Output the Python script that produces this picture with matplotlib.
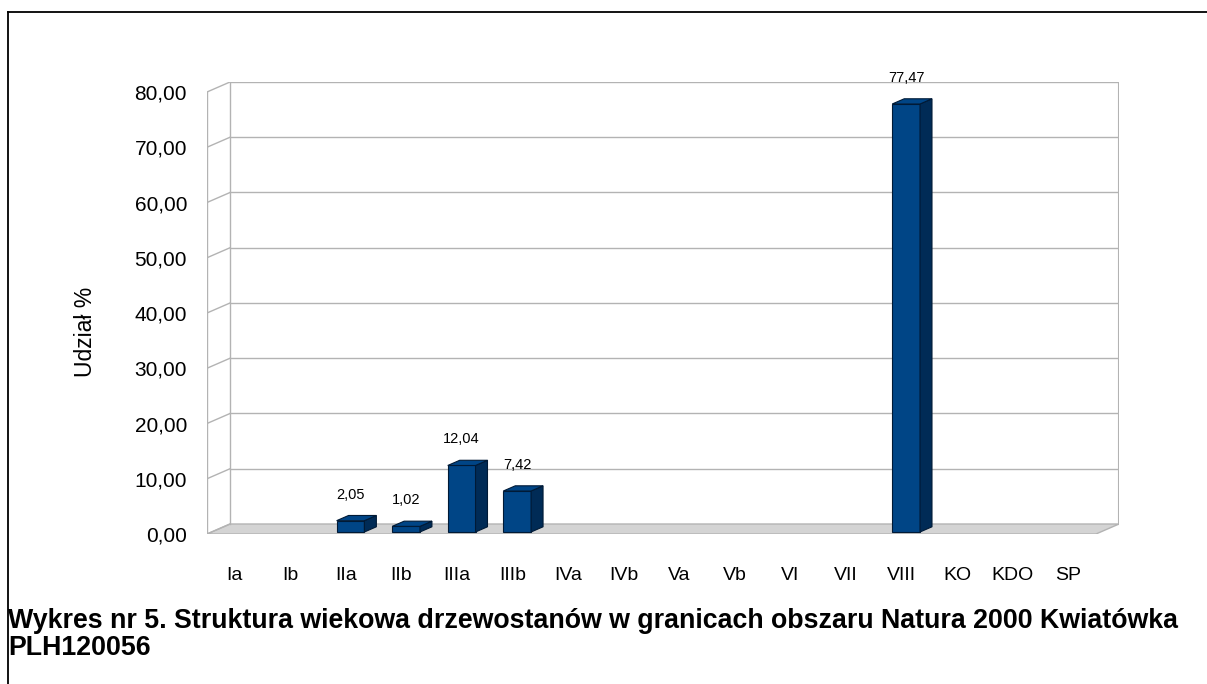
import matplotlib.pyplot as plt
from matplotlib.patches import Polygon
from matplotlib.lines import Line2D

categories = ['Ia', 'Ib', 'IIa', 'IIb', 'IIIa', 'IIIb', 'IVa', 'IVb', 'Va', 'Vb',
              'VI', 'VII', 'VIII', 'KO', 'KDO', 'SP']
values = [0, 0, 2.05, 1.02, 12.04, 7.42, 0, 0, 0, 0, 0, 0, 77.47, 0, 0, 0]
yticks = [0, 10, 20, 30, 40, 50, 60, 70, 80]

plt.rcParams['font.family'] = ['Liberation Sans', 'DejaVu Sans']

W, H = 1207, 684
fig = plt.figure(figsize=(W / 100, H / 100), dpi=100)

# plot area in pixels (front-left corner to back-right corner)
px_l, px_r, px_b, px_t = 207, 1119, 534, 82
ax = fig.add_axes([px_l / W, 1 - px_b / H, (px_r - px_l) / W, (px_b - px_t) / H])

DX = 0.414   # depth offset in category units
DY = 1.81    # depth offset in value units
ymax = 80
n = len(categories)
ax.set_xlim(-0.5, n - 0.5 + DX)
ax.set_ylim(0, ymax + DY)
ax.axis('off')

grid_c = '#b3b3b3'
x_front_l, x_front_r = -0.5, n - 0.5
# floor
ax.add_patch(Polygon([(x_front_l, 0), (x_front_r, 0), (x_front_r + DX, DY), (x_front_l + DX, DY)],
                     closed=True, facecolor='#d4d4d4', edgecolor=grid_c, lw=1, zorder=1))
# walls + grid
for t in yticks:
    ax.add_line(Line2D([x_front_l, x_front_l + DX], [t, t + DY], color=grid_c, lw=1, zorder=1))
    if t > 0:
        ax.add_line(Line2D([x_front_l + DX, x_front_r + DX], [t + DY, t + DY], color=grid_c, lw=1, zorder=1))
ax.add_line(Line2D([x_front_l, x_front_l], [0, ymax], color=grid_c, lw=1, zorder=1))
ax.add_line(Line2D([x_front_l + DX, x_front_l + DX], [DY, ymax + DY], color=grid_c, lw=1, zorder=1))
ax.add_line(Line2D([x_front_r + DX, x_front_r + DX], [DY, ymax + DY], color=grid_c, lw=1.5, zorder=1))

# bars
bw = 0.5
d0, bd = 0.2, 0.52
front_c, side_c, top_c, edge_c = '#004586', '#002b56', '#004586', '#001a36'
for i, v in enumerate(values):
    if v <= 0:
        continue
    x0 = i - bw / 2 + d0 * DX
    y0 = d0 * DY
    ddx, ddy = bd * DX, bd * DY
    ax.add_patch(Polygon([(x0, y0), (x0 + bw, y0), (x0 + bw, y0 + v), (x0, y0 + v)],
                         closed=True, facecolor=front_c, edgecolor=edge_c, lw=0.8, zorder=3))
    ax.add_patch(Polygon([(x0 + bw, y0), (x0 + bw + ddx, y0 + ddy), (x0 + bw + ddx, y0 + v + ddy), (x0 + bw, y0 + v)],
                         closed=True, facecolor=side_c, edgecolor=edge_c, lw=0.8, zorder=3))
    ax.add_patch(Polygon([(x0, y0 + v), (x0 + bw, y0 + v), (x0 + bw + ddx, y0 + v + ddy), (x0 + ddx, y0 + v + ddy)],
                         closed=True, facecolor=top_c, edgecolor=edge_c, lw=0.8, zorder=3))
    ax.annotate(f'{v:.2f}'.replace('.', ','), (x0 + bw / 2, y0 + v), xytext=(0, 26),
                textcoords='offset pixels', ha='center', va='center', fontsize=10.5, zorder=4)

# tick labels
for i, c in enumerate(categories):
    ax.annotate(c, (i, 0), xytext=(0, -41), textcoords='offset pixels',
                ha='center', va='center', fontsize=14)
for t in yticks:
    ax.annotate(f'{t:.2f}'.replace('.', ','), (x_front_l, t), xytext=(-20, -2),
                textcoords='offset pixels', ha='right', va='center', fontsize=15)

fig.text(85 / W, 1 - 332 / H, 'Udział %', rotation=90, ha='center', va='center', fontsize=16.5)

fig.text(8 / W, 1 - 628 / H, 'Wykres nr 5. Struktura wiekowa drzewostanów w granicach obszaru Natura 2000 Kwiatówka',
         ha='left', va='baseline', fontsize=19.25, fontweight='bold')
fig.text(8 / W, 1 - 655 / H, 'PLH120056', ha='left', va='baseline', fontsize=19.25, fontweight='bold')

# frame around the chart object
fig.add_artist(Line2D([7.5 / W, 7.5 / W], [0, 1 - 11.5 / H], color='black', lw=1.3, transform=fig.transFigure))
fig.add_artist(Line2D([7.5 / W, 1], [1 - 11.5 / H, 1 - 11.5 / H], color='black', lw=1.3, transform=fig.transFigure))

fig.savefig('out.png', dpi=100)
